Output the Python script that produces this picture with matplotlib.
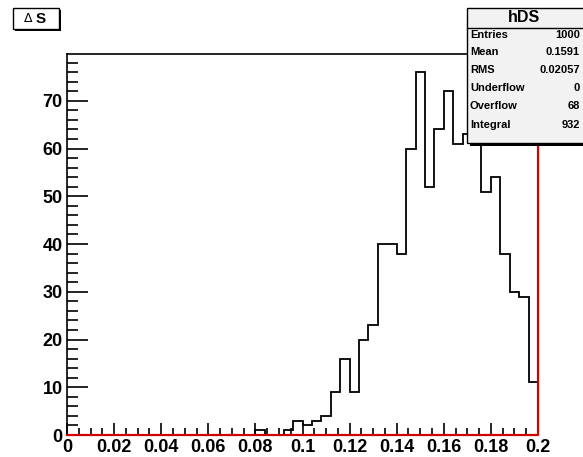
#!/usr/bin/env python3
import matplotlib
matplotlib.use("Agg")
import matplotlib.pyplot as plt
from matplotlib.patches import Rectangle
from matplotlib.ticker import MultipleLocator
import numpy as np

# histogram hDS: 50 bins from 0 to 0.2
x_min, x_max = 0.0, 0.2
counts = [0] * 20 + [
    1, 0, 0, 1, 3,
    2, 3, 4, 9, 16,
    9, 20, 23, 40, 40,
    38, 60, 76, 52, 64,
    72, 61, 63, 62, 51,
    54, 38, 30, 29, 11,
]
hist_name = "hDS"
title = "S"
stat_labels = ["Entries", "Mean", "RMS", "Underflow", "Overflow", "Integral"]
stat_values = ["1000", "0.1591", "0.02057", "0", "68", "932"]

W, H = 583, 457
plt.rcParams["font.family"] = ["Liberation Sans", "DejaVu Sans"]
fig = plt.figure(figsize=(W / 100, H / 100), dpi=100)


def fx(px):
    return px / W


def fy(py):
    return 1 - py / H


# frame: 67..538 x, 54..435 y (pixels)
ax = fig.add_axes([fx(67), fy(435), fx(538) - fx(67), fy(54) - fy(435)])
edges = np.linspace(x_min, x_max, len(counts) + 1)
ymax = max(counts) * 1.05
ax.stairs(counts, edges, color="black", lw=1.3, baseline=0)
ax.plot([x_min, x_max, x_max], [0, 0, ymax], color="#d00000", lw=1.6,
        clip_on=False, zorder=5)
ax.set_xlim(x_min, x_max)
ax.set_ylim(0, ymax)

for s in ["top", "left"]:
    ax.spines[s].set_linewidth(1.2)
ax.spines["right"].set_visible(False)
ax.spines["bottom"].set_visible(False)

ax.xaxis.set_major_locator(MultipleLocator(0.02))
ax.xaxis.set_minor_locator(MultipleLocator(0.005))
ax.yaxis.set_major_locator(MultipleLocator(10))
ax.yaxis.set_minor_locator(MultipleLocator(2))
ax.tick_params(axis="both", which="both", direction="in", top=False, right=False,
               labelsize=13, width=1.2)
ax.tick_params(axis="x", which="major", length=9, pad=3)
ax.tick_params(axis="x", which="minor", length=5)
ax.tick_params(axis="y", which="major", length=15, pad=3)
ax.tick_params(axis="y", which="minor", length=8)
ax.set_xticks(np.arange(0, 0.2001, 0.02))
ax.set_xticklabels(["0", "0.02", "0.04", "0.06", "0.08", "0.1", "0.12",
                    "0.14", "0.16", "0.18", "0.2"])
for lab in ax.get_xticklabels() + ax.get_yticklabels():
    lab.set_fontweight("bold")

# title box
tx0, ty0, tx1, ty1 = 13, 8, 59, 29
shadow = Rectangle((fx(tx0 + 2), fy(ty1 + 2)), fx(tx1 - tx0), fy(ty0) - fy(ty1),
                   transform=fig.transFigure, facecolor="black",
                   edgecolor="none", zorder=9)
fig.patches.append(shadow)
tbox = Rectangle((fx(tx0), fy(ty1)), fx(tx1 - tx0), fy(ty0) - fy(ty1),
                 transform=fig.transFigure, facecolor="white",
                 edgecolor="black", lw=1.0, zorder=10)
fig.patches.append(tbox)
fig.text(fx(28), fy(19), "Δ", fontsize=9, ha="center", va="center", zorder=11,
         family="DejaVu Sans")
fig.text(fx(41), fy(19), title, fontsize=11, fontweight="bold", ha="center",
         va="center", zorder=11)

# stats box
bx0, by0, bx1, by1 = 467, 8, 586, 143
sshadow = Rectangle((fx(bx0 + 3), fy(by1 + 3)), fx(bx1 - bx0), fy(by0) - fy(by1),
                    transform=fig.transFigure, facecolor="black",
                    edgecolor="none", zorder=9)
fig.patches.append(sshadow)
sbox = Rectangle((fx(bx0), fy(by1)), fx(bx1 - bx0), fy(by0) - fy(by1),
                 transform=fig.transFigure, facecolor="#f2f2f2",
                 edgecolor="black", lw=1.0, zorder=10)
fig.patches.append(sbox)
fig.add_artist(plt.Line2D([fx(bx0), fx(bx1)], [fy(28), fy(28)], color="black",
                          lw=1.0, zorder=11))
fig.text(fx(524), fy(18), hist_name, fontsize=11.5, fontweight="bold",
         ha="center", va="center", zorder=11)
row_y = [35, 52, 70, 88, 106, 125]
for lab, val, yy in zip(stat_labels, stat_values, row_y):
    fig.text(fx(470), fy(yy), lab, fontsize=8, fontweight="bold",
             ha="left", va="center", zorder=11)
    fig.text(fx(580), fy(yy), val, fontsize=8, fontweight="bold",
             ha="right", va="center", zorder=11)

fig.savefig("out.png", dpi=100)
